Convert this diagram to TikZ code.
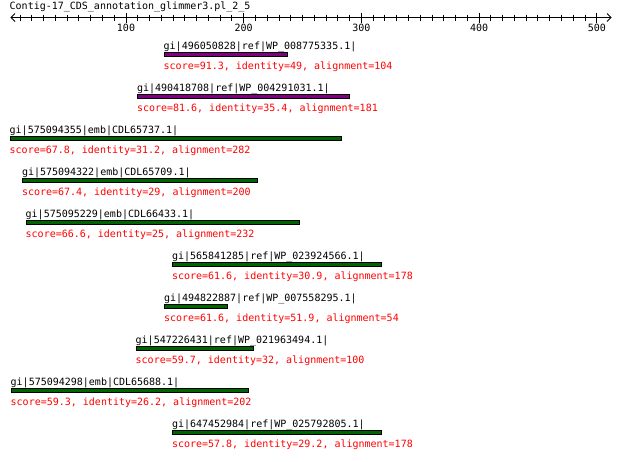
\documentclass[tikz,border=0pt]{standalone}
\usepackage{fontspec}
\setmonofont{DejaVu Sans Mono}
\definecolor{hitpurple}{RGB}{128,0,128}
\definecolor{hitgreen}{RGB}{0,100,0}
\definecolor{hitred}{RGB}{255,0,0}
\tikzset{
  txt/.style={inner sep=0pt, anchor=base west, font=\ttfamily\fontsize{10}{12}\selectfont},
  lbl/.style={txt, text=black},
  scr/.style={txt, text=hitred},
  barbox/.style={draw=black, line width=0.9pt},
  axisline/.style={line width=1pt, black},
}
\newcommand\hitrow[7]{%
  % #1 index, #2 x start, #3 x end, #4 colour, #5 label, #6 score, #7 name
  \pgfmathsetmacro\bl{49+42.04*(#1-1)}
  \node[lbl] (#7l) at (#2-0.5,\bl) {#5};
  \draw[barbox, fill=#4] (#2,\bl+3.4) rectangle (#3,\bl+7.3);
  \node[scr] (#7s) at (#2-0.5,\bl+20.3) {#6};
}
\begin{document}
\begin{tikzpicture}[x=1pt,y=-1pt]
\useasboundingbox (0,0) rectangle (620,461);
\fill[white] (0,0) rectangle (620,461);
% title
\node[lbl] (title) at (9.5,9.5) {Contig-17\_CDS\_annotation\_glimmer3.pl\_2\_5};
% axis
\coordinate (axl) at (11,17.5);
\coordinate (axr) at (611,17.5);
\draw[axisline] (axl) -- (axr);
\draw[axisline] ([shift={(4,-4)}]axl) -- (axl) -- ([shift={(4,4)}]axl);
\draw[axisline] ([shift={(-4,-4)}]axr) -- (axr) -- ([shift={(-4,4)}]axr);
\foreach \v in {10,20,...,500}{
  \pgfmathsetmacro\xx{126+1.177*(\v-100)}
  \pgfmathtruncatemacro\md{mod(\v,100)}
  \ifnum\md=0
    \draw[axisline] (\xx,12.5) -- (\xx,22.5);
    \node[txt, anchor=base] (t\v) at (\xx,31) {\v};
  \else
    \draw[axisline] (\xx,14.5) -- (\xx,20.5);
  \fi
}
% hits
\hitrow{1}{164}{287}{hitpurple}{gi|496050828|ref|WP\_008775335.1|}{score=91.3, identity=49, alignment=104}{h1}
\hitrow{2}{137.3}{349.3}{hitpurple}{gi|490418708|ref|WP\_004291031.1|}{score=81.6, identity=35.4, alignment=181}{h2}
\hitrow{3}{10}{341.7}{hitgreen}{gi|575094355|emb|CDL65737.1|}{score=67.8, identity=31.2, alignment=282}{h3}
\hitrow{4}{22.3}{257.7}{hitgreen}{gi|575094322|emb|CDL65709.1|}{score=67.4, identity=29, alignment=200}{h4}
\hitrow{5}{26}{299.3}{hitgreen}{gi|575095229|emb|CDL66433.1|}{score=66.6, identity=25, alignment=232}{h5}
\hitrow{6}{172.3}{381.7}{hitgreen}{gi|565841285|ref|WP\_023924566.1|}{score=61.6, identity=30.9, alignment=178}{h6}
\hitrow{7}{164.3}{227.7}{hitgreen}{gi|494822887|ref|WP\_007558295.1|}{score=61.6, identity=51.9, alignment=54}{h7}
\hitrow{8}{136}{253.7}{hitgreen}{gi|547226431|ref|WP\_021963494.1|}{score=59.7, identity=32, alignment=100}{h8}
\hitrow{9}{11}{248.7}{hitgreen}{gi|575094298|emb|CDL65688.1|}{score=59.3, identity=26.2, alignment=202}{h9}
\hitrow{10}{172.3}{381.7}{hitgreen}{gi|647452984|ref|WP\_025792805.1|}{score=57.8, identity=29.2, alignment=178}{h10}
\end{tikzpicture}
\end{document}
